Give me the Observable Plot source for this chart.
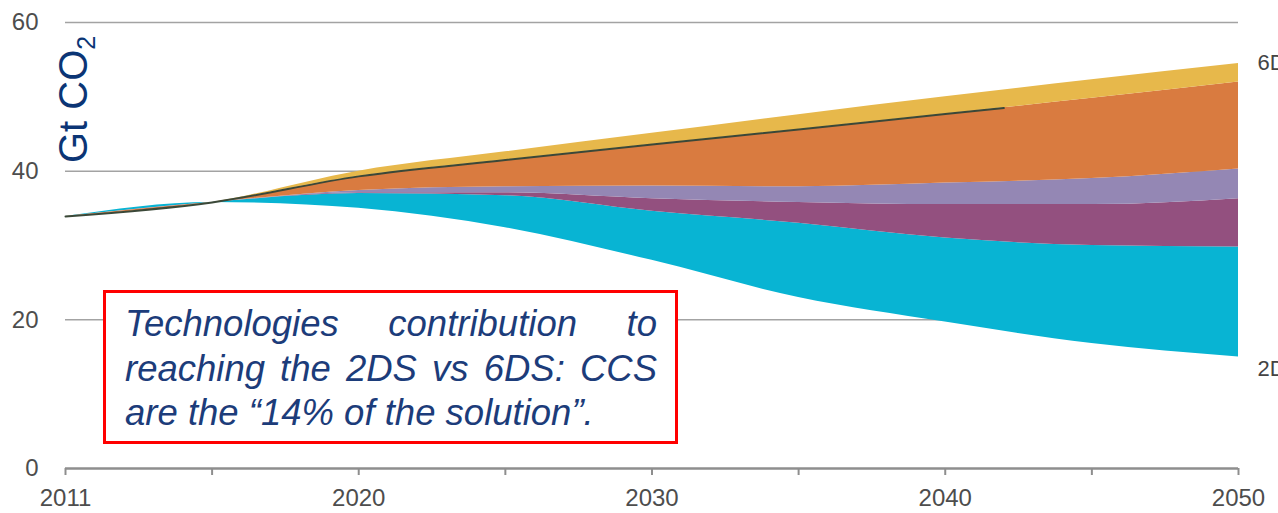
<!DOCTYPE html>
<html>
<head>
<meta charset="utf-8">
<script src="https://cdn.jsdelivr.net/npm/d3@7"></script>
<script src="https://cdn.jsdelivr.net/npm/@observablehq/plot@0.6"></script>
<style>
  html, body { margin: 0; padding: 0; background: #fff; overflow: hidden; }
  #wrap { position: relative; width: 1278px; height: 513px; }
  #note {
    position: absolute; left: 103px; top: 290px; width: 575px; height: 154px;
    box-sizing: border-box; border: 3px solid #ff0000; background: #fff;
    padding: 9px 18px 0 19px;
    font-family: "Liberation Sans", Arial, sans-serif; font-style: italic;
    font-size: 36.5px; line-height: 44.5px; color: #1c3c7a;
  }
  #note .j { text-align: justify; text-align-last: justify; white-space: nowrap; }
  #note .l { text-align: left; white-space: nowrap; }
</style>
</head>
<body>
<div id="wrap">
  <div id="chart"></div>
  <div id="note">
    <div class="j">Technologies contribution to</div>
    <div class="j">reaching the 2DS vs 6DS: CCS</div>
    <div class="l">are the “14% of the solution”.</div>
  </div>
</div>
<script>
// ---- data (Gt CO2) ----
const years = [2011, 2015, 2020, 2025, 2030, 2035, 2040, 2045, 2050];
const top6DS            = [33.9, 35.8, 40.0, 42.6, 45.1, 47.6, 50.0, 52.3, 54.5];
const yellowOrange      = [33.9, 35.8, 39.3, 41.5, 43.6, 45.6, 47.7, 49.8, 52.0];
const orangeLilac       = [33.9, 35.8, 37.4, 37.9, 38.0, 37.9, 38.4, 39.0, 40.3];
const lilacPurple       = [33.9, 35.8, 37.1, 37.1, 36.3, 35.8, 35.5, 35.5, 36.3];
const purpleCyan        = [33.9, 35.8, 37.0, 36.7, 34.6, 33.0, 31.0, 30.0, 29.8];
const bottom2DS         = [33.9, 35.8, 35.0, 32.4, 28.0, 23.0, 19.7, 16.8, 15.0];

const lineYears  = [2011, 2015, 2020, 2025, 2030, 2035, 2040, 2042];
const lineValues = [33.9, 35.8, 39.3, 41.5, 43.6, 45.6, 47.7, 48.5];

const bandColors = ["#e7b84b", "#d97b40", "#9487b4", "#93507f", "#08b4d3"];
const tickYears  = [2011, 2015, 2020, 2025, 2030, 2035, 2040, 2045, 2050];
const labelYears = [2011, 2020, 2030, 2040, 2050];
const yTicks     = [0, 20, 40, 60];
const gridTicks  = [20, 40, 60];
const endLabels  = ["6DS", "2DS"];

// ---- build bands (bottom band drawn first) ----
const boundaries = [top6DS, yellowOrange, orangeLilac, lilacPurple, purpleCyan, bottom2DS];
const bands = bandColors.map((color, k) => ({
  color,
  rows: years.map((year, i) => ({year, t: boundaries[k][i], b: boundaries[k + 1][i]}))
})).reverse();
const lineRows = lineYears.map((year, i) => ({year, v: lineValues[i]}));
const endRows = [
  {label: endLabels[0], year: 2050, v: top6DS[top6DS.length - 1]},
  {label: endLabels[1], year: 2050, v: bottom2DS[bottom2DS.length - 1]}
];

const chart = Plot.plot({
  width: 1278,
  height: 513,
  marginLeft: 65,
  marginRight: 40,
  marginTop: 22,
  marginBottom: 45,
  style: {fontFamily: "'Liberation Sans', Arial, sans-serif", background: "white", overflow: "visible"},
  x: {type: "linear", domain: [2011, 2015, 2050], range: [65, 211.6, 1238], label: null},
  y: {domain: [0, 60], label: null},
  marks: [
    Plot.gridY(gridTicks, {stroke: "#a3a3a3", strokeOpacity: 1, strokeWidth: 1.5}),
    ...bands.map(b => Plot.areaY(b.rows, {x: "year", y1: "b", y2: "t", fill: b.color, curve: "monotone-x"})),
    Plot.line(lineRows, {x: "year", y: "v", stroke: "#3b4838", strokeWidth: 2, curve: "monotone-x"}),
    Plot.ruleY([0], {stroke: "#8e8e8e", strokeWidth: 2.5}),
    Plot.axisX({ticks: tickYears, tickSize: 7, tickFormat: () => "", stroke: "#8e8e8e", strokeWidth: 2}),
    Plot.axisX({ticks: labelYears, tickSize: 0, tickPadding: 20, tickFormat: d => String(d),
                fontSize: 24, fill: "#4d4d4d", label: null}),
    Plot.axisY({ticks: yTicks, tickSize: 0, tickPadding: 27, tickFormat: d => String(d),
                fontSize: 24, fill: "#4d4d4d", label: null}),
    Plot.text(endRows, {x: "year", y: "v", text: "label", dx: 19, textAnchor: "start",
                        fontSize: 22, fill: "#444"})
  ]
});
document.getElementById("chart").appendChild(chart);

// nudge the 2DS end label slightly lower, as in the reference
d3.select(chart).selectAll("text").filter(function() { return this.textContent === endLabels[1]; })
  .attr("dy", "0.55em");

// y-axis title with subscript
const title = d3.select(chart).append("text")
  .attr("transform", "translate(87,163) rotate(-90)")
  .attr("text-anchor", "start")
  .attr("font-family", "'Liberation Sans', Arial, sans-serif")
  .attr("font-size", 40)
  .attr("fill", "#0b3575");
title.append("tspan").text("Gt CO");
title.append("tspan").attr("font-size", 25).attr("dy", 8).text("2");
</script>
</body>
</html>
